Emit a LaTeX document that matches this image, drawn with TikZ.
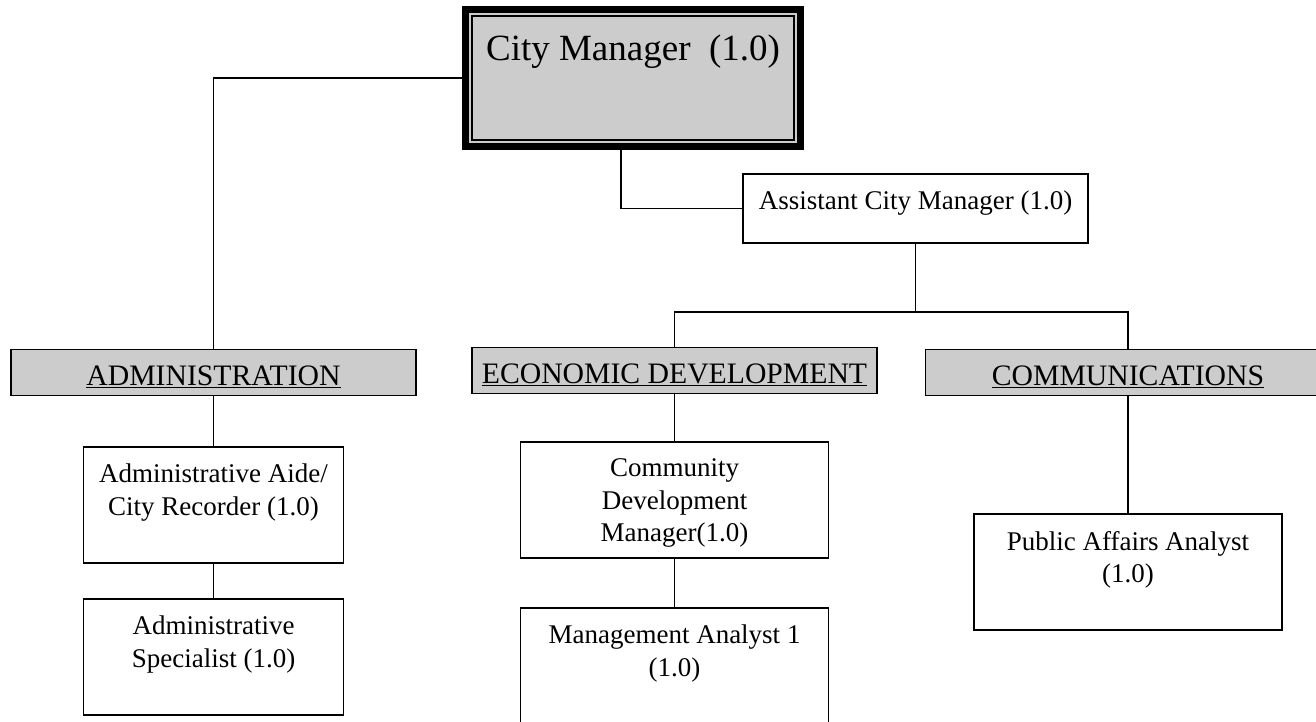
\documentclass[tikz,border=0pt]{standalone}
\usepackage{fontspec}
\setmainfont{Liberation Serif}
\usepackage{tikz}
\usetikzlibrary{positioning}
\usepackage{xcolor}
\definecolor{headgray}{RGB}{204,204,204}

\begin{document}
\begin{tikzpicture}[x=1pt, y=-1pt, line width=1.6pt,
    posbox/.style={draw, fill=white, minimum width=308pt, minimum height=116pt, inner sep=0pt},
    headbox/.style={draw, fill=headgray, minimum width=405pt, minimum height=46pt, inner sep=0pt,
        text height=27pt, text depth=2pt, font=\fontsize{29.7}{35}\selectfont},
    boxtext/.style={anchor=north, align=center, inner sep=0pt, yshift=-17pt, font=\fontsize{27}{32.5}\selectfont}]
\useasboundingbox (0,0) rectangle (1316,721);

% top of the chart
\node[draw, line width=7pt, fill=headgray, minimum width=335pt, minimum height=137pt, inner sep=0pt,
      label={[boxtext, yshift=-11pt, font=\fontsize{37}{44}\selectfont]north:City Manager \ (1.0)}] (cm) at (633,78) {};
\draw[line width=1.3pt] ([shift={(10,10)}]cm.north west) rectangle ([shift={(-10,-10)}]cm.south east);
\node[posbox, minimum width=345pt, minimum height=69pt,
      label={[boxtext]north:Assistant City Manager (1.0)}] (acm) at (915.5,208.5) {};

% divisions
\node[headbox] (admin) at (213.5,372.5) {\underline{ADMINISTRATION}};
\node[headbox] (econ) at (674.5,370.5) {\underline{ECONOMIC DEVELOPMENT}};
\node[headbox] (comm) at (1128,372.5) {\underline{COMMUNICATIONS}};

% positions
\node[posbox, minimum width=260pt, label={[boxtext]north:Administrative Aide/\\City Recorder (1.0)}] (aide) at (213.5,505) {};
\node[posbox, minimum width=260pt, label={[boxtext]north:Administrative\\Specialist (1.0)}] (spec) at (213.5,657) {};
\node[posbox, label={[boxtext]north:Community\\Development\\Manager(1.0)}] (cdm) at (674.5,500) {};
\node[posbox, label={[boxtext]north:Management Analyst 1\\(1.0)}] (ma) at (674.5,666) {};
\node[posbox, label={[boxtext]north:Public Affairs Analyst\\(1.0)}] (pa) at (1128,572) {};

% connectors
\coordinate (bus) at (915.5,312);
\draw (cm.west) -| (admin.north);
\draw ([xshift=-12pt]cm.south) |- (acm.west);
\draw (acm.south) -- (bus);
\draw (econ.north) -- (econ.north |- bus) -- (comm.north |- bus) -- (comm.north);
\draw (admin.south) -- (aide.north);
\draw (aide.south) -- (spec.north);
\draw (econ.south) -- (cdm.north);
\draw (cdm.south) -- (ma.north);
\draw (comm.south) -- (pa.north);
\end{tikzpicture}
\end{document}
